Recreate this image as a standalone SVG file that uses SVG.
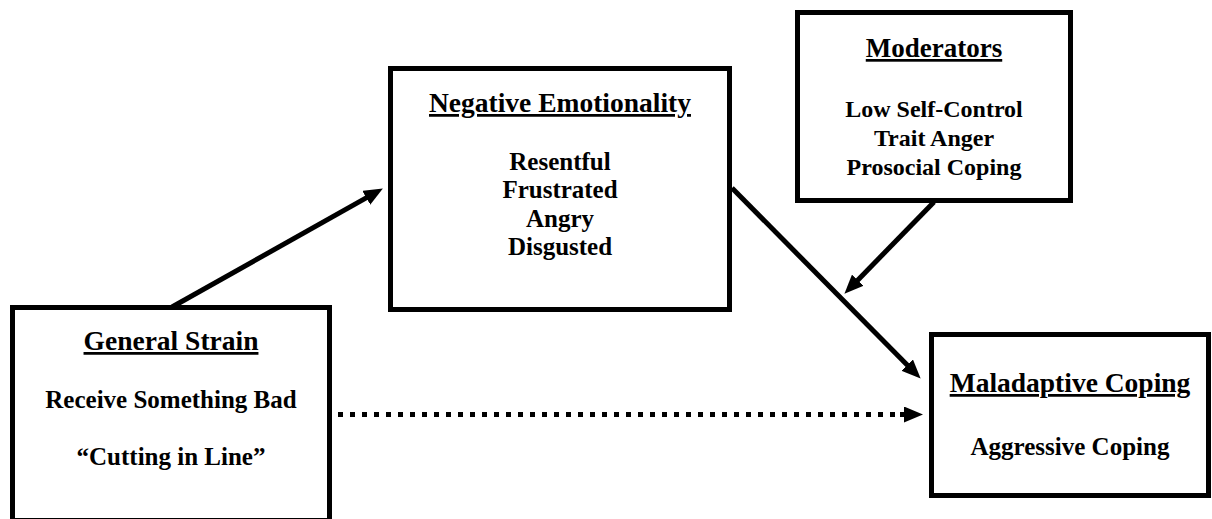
<svg xmlns="http://www.w3.org/2000/svg" width="1212" height="519" viewBox="0 0 1212 519">
<style>
.box{fill:#fff;stroke:#000;stroke-width:5}
.t{font-family:"Liberation Serif","Times New Roman",serif;font-weight:bold;fill:#000;text-anchor:middle}
.h{font-size:27.5px;text-decoration:underline}
.b{font-size:25px}
.mh{font-size:27px;text-decoration:underline}
.mb{font-size:24px}
.c{stroke:#000;stroke-width:5;fill:none}
</style>
<defs>
<marker id="ah" markerUnits="userSpaceOnUse" markerWidth="20" markerHeight="16" viewBox="0 0 20 16" refX="8" refY="8" orient="auto">
<path d="M0,0 L19,8 L0,16 z" fill="#000"/>
</marker>
</defs>
<rect width="1212" height="519" fill="#fff"/>
<g id="connectors">
<line class="c" x1="172" y1="307" x2="373.3" y2="193.9" marker-end="url(#ah)"/>
<line class="c" x1="732" y1="188" x2="912.9" y2="370.8" marker-end="url(#ah)"/>
<line class="c" x1="934" y1="202" x2="852.1" y2="285.9" marker-end="url(#ah)"/>
<line class="c" x1="338" y1="414.5" x2="904" y2="414.5" stroke-dasharray="5 7"/>
<line class="c" x1="900" y1="414.5" x2="912" y2="414.5" marker-end="url(#ah)"/>
</g>
<g id="general-strain">
<rect class="box" x="12.5" y="307.5" width="317" height="213"/>
<text class="t h" x="171" y="350">General Strain</text>
<text class="t b" x="171" y="408">Receive Something Bad</text>
<text class="t b" x="171" y="465">“Cutting in Line”</text>
</g>
<g id="negative-emotionality">
<rect class="box" x="390.5" y="68.5" width="339" height="241"/>
<text class="t h" x="560" y="112">Negative Emotionality</text>
<text class="t b" x="560" y="170">Resentful</text>
<text class="t b" x="560" y="198">Frustrated</text>
<text class="t b" x="560" y="227">Angry</text>
<text class="t b" x="560" y="255">Disgusted</text>
</g>
<g id="moderators">
<rect class="box" x="797.5" y="12.5" width="273" height="188"/>
<text class="t mh" x="934" y="57">Moderators</text>
<text class="t mb" x="934" y="117">Low Self-Control</text>
<text class="t mb" x="934" y="146">Trait Anger</text>
<text class="t mb" x="934" y="175">Prosocial Coping</text>
</g>
<g id="maladaptive-coping">
<rect class="box" x="931.5" y="334.5" width="277" height="161"/>
<text class="t h" x="1070" y="392">Maladaptive Coping</text>
<text class="t b" x="1070" y="455">Aggressive Coping</text>
</g>
</svg>
